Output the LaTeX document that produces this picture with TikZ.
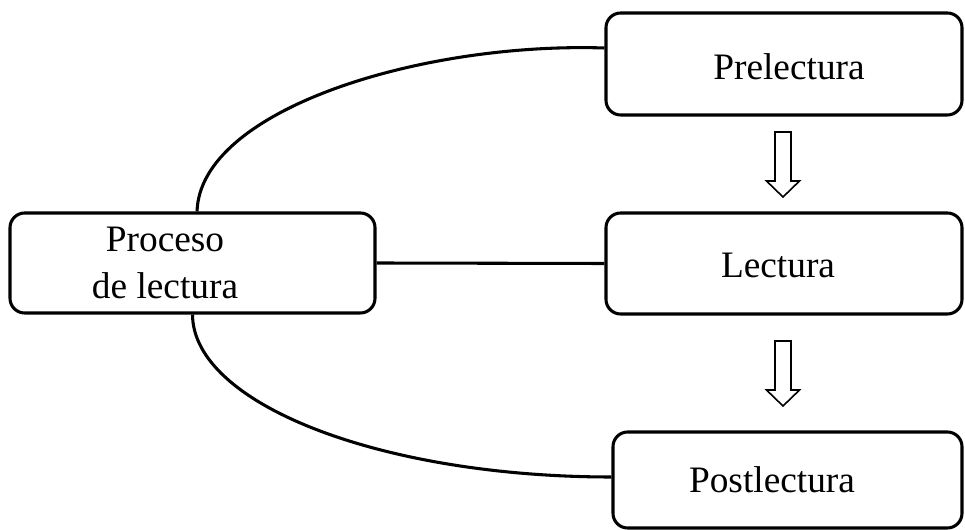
\documentclass[tikz,border=0pt]{standalone}
\usepackage{fontspec}
\setmainfont{Liberation Serif}
\begin{document}
\begin{tikzpicture}[x=0.75pt,y=-0.75pt,
  box/.style={draw, line width=2.3pt, rounded corners=11pt, inner sep=0pt},
  lbl/.style={font=\fontsize{28}{35.25}\selectfont, align=center, inner sep=0pt},
  link/.style={line width=2.3pt},
  blockarrow/.pic={\draw[line width=1.2pt, fill=white]
    (-8,0) -- (8,0) -- (8,49) -- (16.5,49) -- (0,65) -- (-16.5,49) -- (-8,49) -- cycle;}]
\useasboundingbox (0,0) rectangle (965,530);

% boxes
\node[box, minimum width=267pt, minimum height=76.5pt] (prel) at (784,64) {};
\node[box, minimum width=267pt, minimum height=75.75pt] (lect) at (784,263.5) {};
\node[box, minimum width=261.75pt, minimum height=72pt] (post) at (787.5,480) {};
\node[box, minimum width=273.75pt, minimum height=75pt] (proc) at (192.5,263) {};

% labels
\node[lbl, anchor=base] (tprel) at (789,80) {Prelectura};
\node[lbl, anchor=base] (tlect) at (778,278) {Lectura};
\node[lbl, anchor=base] (tpost) at (772,493) {Postlectura};
\node[lbl, anchor=base] (tproc) at (165,299) {Proceso\\de lectura};

% connectors
\draw[link] ([yshift=12pt]prel.west) .. controls (420,42) and (200,110) .. ([xshift=3.4pt]proc.north);
\draw[link] (proc.east) -- (lect.west);
\draw[link] (proc.south) .. controls (193,404) and (381,477) .. ([yshift=2.25pt]post.west);

% block arrows between the stages
\pic at (783,132) {blockarrow};
\pic at (783,341) {blockarrow};
\end{tikzpicture}
\end{document}
